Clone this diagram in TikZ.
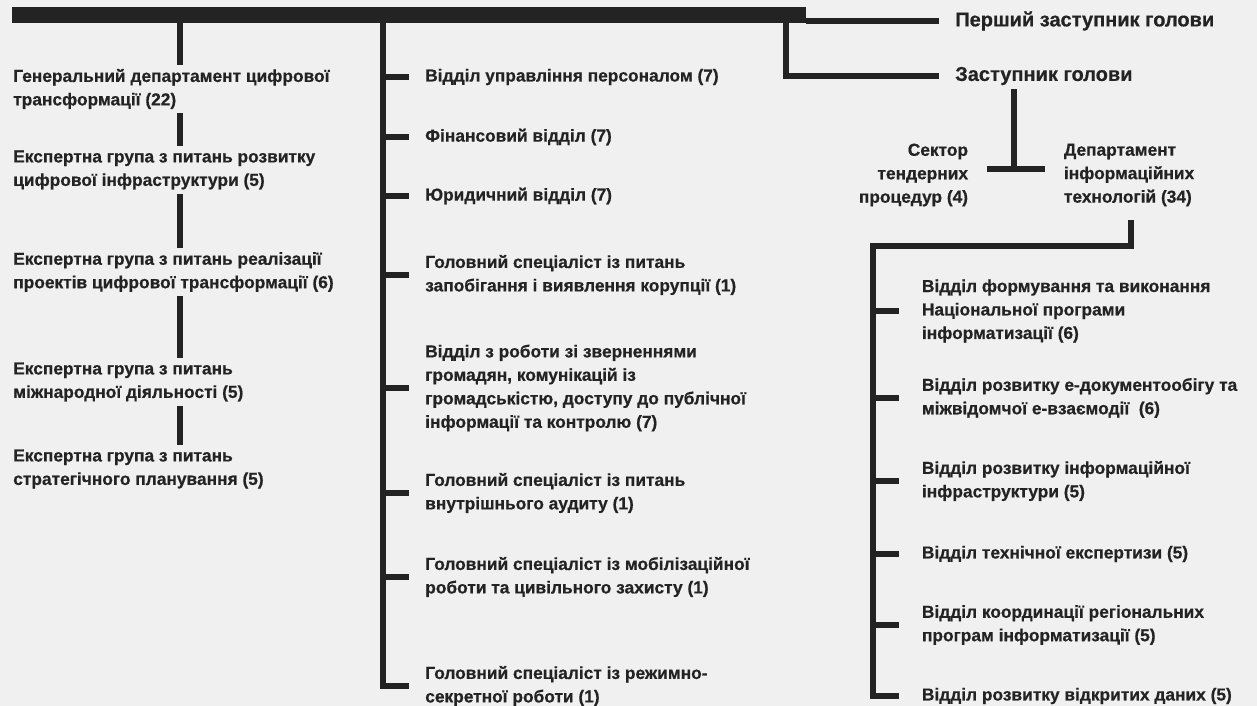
\documentclass[tikz,border=0pt]{standalone}
\usepackage{fontspec}
\setmainfont{Liberation Sans}[BoldFeatures={FakeBold=0.6}]
\definecolor{ink}{HTML}{232323}
\definecolor{paper}{HTML}{F0F0F0}
\tikzset{
BAR/.style ={draw=ink,line cap=butt,line width=12pt},
LINK/.style ={draw=ink,line join=miter,line cap=butt,line width=3.8pt},
UNIT/.style ={text=ink,font=\bfseries\fontsize{13}{17.6}\selectfont,align=left,anchor=west,inner ysep=3pt,inner xsep=#1},
UNIT/.default = 12pt,
HEAD/.style ={UNIT,font=\bfseries\fontsize{15}{18}\selectfont},
}
\begin{document}
\begin{tikzpicture}[x=0.75pt,y=-0.75pt]
	\fill[paper] (0,0) rectangle (1257,706);
	\useasboundingbox (0,0) rectangle (1257,706);
	%head
	\coordinate (barL) at (12,15);
	\coordinate (barR) at (806,15);
	\path[BAR] (barL) -- (barR);
	\node[HEAD] (p1) at (939,21) {Перший заступник голови};
	\node[HEAD] (z1) at (939,76) {Заступник голови};
	\path[LINK] (barR |- p1.west) -- (p1.west);
	\coordinate (colZ) at (786,22);
	\path[LINK] (colZ) -- (colZ |- z1.west) -- (z1.west);
	%left column
	\coordinate (colL) at (180,22);
	\node[UNIT=0pt] (g1) at (13,89) {Генеральний департамент цифрової\\трансформації (22)};
	\node[UNIT=0pt] (g2) at (13,170) {Експертна група з питань розвитку\\цифрової інфраструктури (5)};
	\node[UNIT=0pt] (g3) at (13,272) {Експертна група з питань реалізації\\проектів цифрової трансформації (6)};
	\node[UNIT=0pt] (g4) at (13,382) {Експертна група з питань\\міжнародної діяльності (5)};
	\node[UNIT=0pt] (g5) at (13,469) {Експертна група з питань\\стратегічного планування (5)};
	\path[LINK] (colL) -- (colL |- g1.north);
	\foreach \a/\b in {g1/g2,g2/g3,g3/g4,g4/g5}
		\path[LINK] (colL |- \a.south) -- (colL |- \b.north);
	%middle column
	\coordinate (colM) at (383,22);
	\node[UNIT] (m1) at (409,77) {Відділ управління персоналом (7)};
	\node[UNIT] (m2) at (409,137) {Фінансовий відділ (7)};
	\node[UNIT] (m3) at (409,196) {Юридичний відділ (7)};
	\node[UNIT] (m4) at (409,275) {Головний спеціаліст із питань\\запобігання і виявлення корупції (1)};
	\node[UNIT] (m5) at (409,388) {Відділ з роботи зі зверненнями\\громадян, комунікацій із\\громадськістю, доступу до публічної\\інформації та контролю (7)};
	\node[UNIT] (m6) at (409,493) {Головний спеціаліст із питань\\внутрішнього аудиту (1)};
	\node[UNIT] (m7) at (409,577) {Головний спеціаліст із мобілізаційної\\роботи та цивільного захисту (1)};
	\node[UNIT] (m8) at (409,686) {Головний спеціаліст із режимно-\\секретної роботи (1)};
	\path[LINK] (colM) -- (colM |- m8.west) -- (m8.west);
	\foreach \n in {m1,m2,m3,m4,m5,m6,m7}
		\path[LINK] (colM |- \n.west) -- (\n.west);
	%deputy branch
	\coordinate (fork) at (1014,169);
	\node[UNIT=14pt,anchor=east,align=right] (sec) at (987,175) {Сектор\\тендерних\\процедур (4)};
	\node[UNIT=14pt] (dep) at (1045,175) {Департамент\\інформаційних\\технологій (34)};
	\path[LINK] (fork |- z1.south) -- (fork);
	\path[LINK] (sec.east |- fork) -- (dep.west |- fork);
	%right column
	\coordinate (drop) at (1131,220);
	\coordinate (colR) at (873,246);
	\node[UNIT=17pt] (r1) at (899,311) {Відділ формування та виконання\\Національної програми\\інформатизації (6)};
	\node[UNIT=17pt] (r2) at (899,398) {Відділ розвитку е-документообігу та\\міжвідомчої е-взаємодії~~(6)};
	\node[UNIT=17pt] (r3) at (899,481) {Відділ розвитку інформаційної\\інфраструктури (5)};
	\node[UNIT=17pt] (r4) at (899,554) {Відділ технічної експертизи (5)};
	\node[UNIT=17pt] (r5) at (899,625) {Відділ координації регіональних\\програм інформатизації (5)};
	\node[UNIT=17pt] (r6) at (899,696) {Відділ розвитку відкритих даних (5)};
	\path[LINK] (drop) -- (drop |- colR) -- (colR) -- (colR |- r6.west) -- (r6.west);
	\foreach \n in {r1,r2,r3,r4,r5}
		\path[LINK] (colR |- \n.west) -- (\n.west);
\end{tikzpicture}
\end{document}
